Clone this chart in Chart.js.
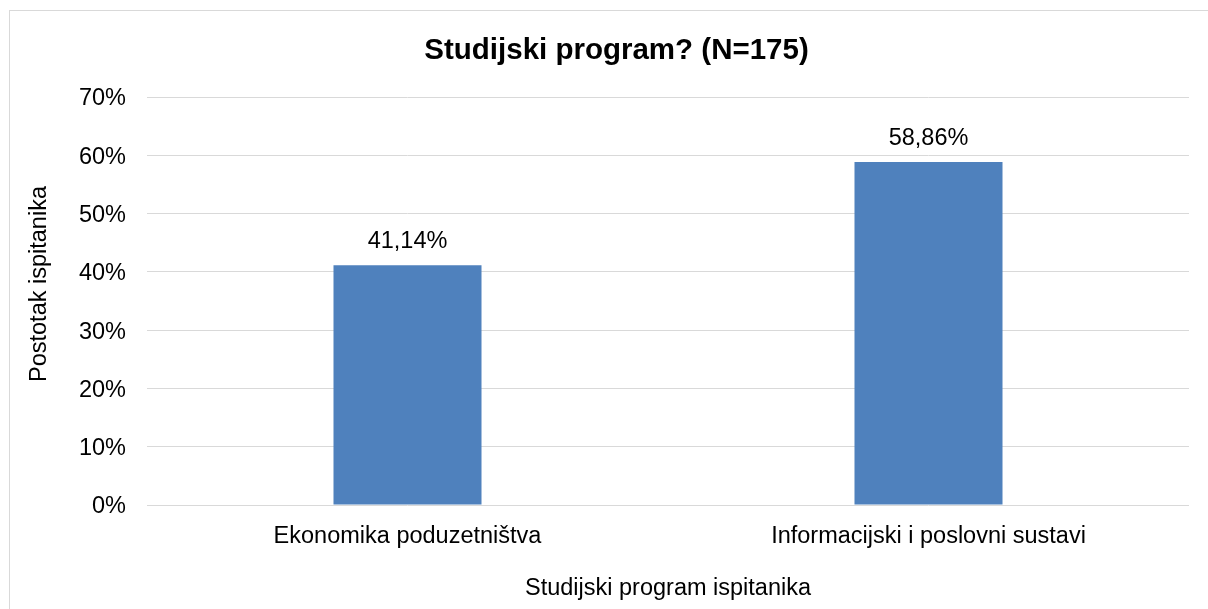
<!DOCTYPE html>
<html>
<head>
<meta charset="utf-8">
<script src="https://cdn.jsdelivr.net/npm/chart.js@4"></script>
<style>
html,body{margin:0;padding:0;background:#fff;overflow:hidden;width:1208px;height:609px;}
#box{position:absolute;left:9px;top:10px;width:1213px;height:610px;border:1px solid #d9d9d9;background:#fff;}
canvas{display:block;}
</style>
</head>
<body>
<div id="box"><canvas id="c" width="1213" height="598" style="width:1213px;height:598px;"></canvas></div>
<script>
const categories = ['Ekonomika poduzetništva', 'Informacijski i poslovni sustavi'];
const values = [41.14, 58.86];
const valueLabels = ['41,14%', '58,86%'];
const yTicks = [0, 10, 20, 30, 40, 50, 60, 70];
const chartTitle = 'Studijski program? (N=175)';
const xTitle = 'Studijski program ispitanika';
const yTitle = 'Postotak ispitanika';

const FONT = '"Liberation Sans", Arial, Helvetica, sans-serif';
const TXT = 23.5;

const valueLabelPlugin = {
  id: 'valueLabels',
  afterDatasetsDraw(chart) {
    const ctx = chart.ctx;
    const meta = chart.getDatasetMeta(0);
    ctx.save();
    ctx.font = TXT + 'px ' + FONT;
    ctx.fillStyle = '#000';
    ctx.textAlign = 'center';
    ctx.textBaseline = 'alphabetic';
    meta.data.forEach((bar, i) => {
      ctx.fillText(valueLabels[i], bar.x, bar.y - 17);
    });
    ctx.restore();
  }
};

const yTitlePlugin = {
  id: 'yTitle',
  afterDraw(chart) {
    const ctx = chart.ctx;
    ctx.save();
    ctx.font = TXT + 'px ' + FONT;
    ctx.fillStyle = '#000';
    ctx.textAlign = 'center';
    ctx.textBaseline = 'middle';
    ctx.translate(30, 273);
    ctx.rotate(-Math.PI / 2);
    ctx.fillText(yTitle, 0, 0);
    ctx.restore();
  }
};

new Chart(document.getElementById('c'), {
  type: 'bar',
  data: {
    labels: categories,
    datasets: [{
      data: values,
      backgroundColor: '#4F81BD',
      borderWidth: 0,
      categoryPercentage: 1,
      barPercentage: 0.2841
    }]
  },
  plugins: [valueLabelPlugin, yTitlePlugin],
  options: {
    responsive: false,
    animation: false,
    devicePixelRatio: 1,
    layout: { padding: { left: 34, right: 34, top: 0, bottom: 0 } },
    plugins: {
      legend: { display: false },
      tooltip: { enabled: false },
      title: {
        display: true,
        text: chartTitle,
        color: '#000',
        font: { family: FONT, size: 29.5, weight: 'bold' },
        padding: { top: 22, bottom: 28.6 }
      }
    },
    scales: {
      x: {
        grid: { display: false, drawTicks: false },
        border: { display: false },
        ticks: { color: '#000', font: { family: FONT, size: TXT }, padding: 17, maxRotation: 0, autoSkip: false },
        title: { display: true, text: xTitle, color: '#000', font: { family: FONT, size: TXT }, padding: { top: 0, bottom: 6 } },
        afterFit(scale) { scale.height = 104; }
      },
      y: {
        min: 0,
        max: 70,
        grid: { color: '#d9d9d9', lineWidth: 1, drawTicks: false },
        border: { display: false },
        afterBuildTicks(scale) { scale.ticks = yTicks.map(v => ({ value: v })); },
        ticks: { color: '#000', font: { family: FONT, size: TXT }, padding: 21, labelOffset: 2, callback: v => v + '%' },
        title: { display: false },
        afterFit(scale) { scale.width = 103; }
      }
    }
  }
});
</script>
</body>
</html>
